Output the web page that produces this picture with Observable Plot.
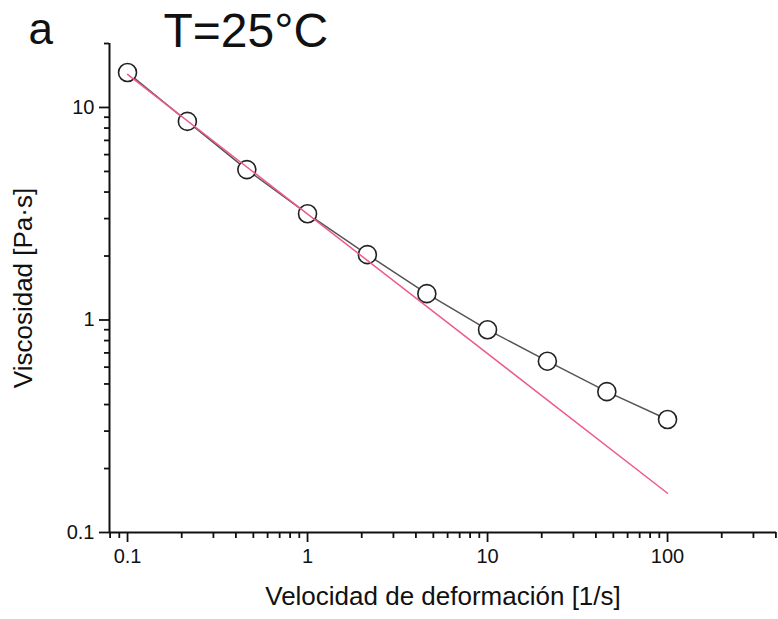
<!DOCTYPE html>
<html>
<head>
<meta charset="utf-8">
<script src="https://cdn.jsdelivr.net/npm/d3@7"></script>
<script src="https://cdn.jsdelivr.net/npm/@observablehq/plot@0.6"></script>
<style>
  html, body { margin: 0; padding: 0; background: #fff; }
  #chart svg { display: block; font-family: "Liberation Sans", Arial, sans-serif; }
</style>
</head>
<body>
<div id="chart"></div>
<script>
// Data
const shearRate = [0.1, 0.215, 0.46, 1.0, 2.15, 4.6, 10, 21.5, 46, 100];
const viscosity = [14.6, 8.6, 5.1, 3.16, 2.03, 1.33, 0.90, 0.64, 0.46, 0.34];

// Power-law fit line (endpoints)
const fitX = [0.1, 100];
const fitY = [14.3, 0.153];

// Axes
const xDomain = [0.0794, 403];
const yDomain = [0.1, 20];
const xMajor = [0.1, 1, 10, 100];
const xMinor = [0.08, 0.09, 0.2, 0.3, 0.4, 0.5, 0.6, 0.7, 0.8, 0.9,
                2, 3, 4, 5, 6, 7, 8, 9, 20, 30, 40, 50, 60, 70, 80, 90, 200, 300, 400];
const yMajor = [0.1, 1, 10];
const yMinor = [0.2, 0.3, 0.4, 0.5, 0.6, 0.7, 0.8, 0.9, 2, 3, 4, 5, 6, 7, 8, 9, 20];

const xLabel = "Velocidad de deformación [1/s]";
const yLabel = "Viscosidad [Pa·s]";
const panelLabel = "a";
const title = "T=25°C";

const points = shearRate.map((x, i) => ({x, y: viscosity[i]}));
const fit = fitX.map((x, i) => ({x, y: fitY[i]}));

const chart = Plot.plot({
  width: 778,
  height: 619,
  marginLeft: 109,
  marginRight: 2,
  marginTop: 43,
  marginBottom: 87,
  style: {fontFamily: "Liberation Sans, Arial, sans-serif", color: "#111", background: "#fff"},
  x: {type: "log", domain: xDomain},
  y: {type: "log", domain: yDomain},
  marks: [
    Plot.axisX({ticks: xMinor, tickSize: 6, tickFormat: () => "", label: null, strokeWidth: 1.8}),
    Plot.axisX({ticks: xMajor, tickSize: 10, tickPadding: 6, fontSize: 20, tickFormat: d => String(d), label: null, strokeWidth: 1.8}),
    Plot.axisY({ticks: yMinor, tickSize: 5, tickFormat: () => "", label: null, strokeWidth: 1.8}),
    Plot.axisY({ticks: yMajor, tickSize: 10, tickPadding: 5, fontSize: 20, tickFormat: d => String(d), label: null, strokeWidth: 1.8}),
    Plot.ruleX([xDomain[0]], {stroke: "#111", strokeWidth: 2}),
    Plot.ruleY([yDomain[0]], {stroke: "#111", strokeWidth: 2}),
    Plot.line(points, {x: "x", y: "y", stroke: "#555", strokeWidth: 1.5}),
    Plot.dot(points, {x: "x", y: "y", r: 9, fill: "white", stroke: "#222", strokeWidth: 1.6}),
    Plot.line(fit, {x: "x", y: "y", stroke: "#ee5a8c", strokeWidth: 1.5}),
    Plot.text([xLabel], {frameAnchor: "bottom", textAnchor: "middle", lineAnchor: "middle", dy: 64, fontSize: 26, fill: "#111"}),
    Plot.text([yLabel], {frameAnchor: "left", textAnchor: "middle", lineAnchor: "middle", rotate: -90, dx: -86, fontSize: 26, fill: "#111"}),
    Plot.text([panelLabel], {frameAnchor: "top-left", textAnchor: "start", lineAnchor: "middle", dx: -81, dy: -14, fontSize: 44, fill: "#111"}),
    Plot.text([title], {frameAnchor: "top-left", textAnchor: "start", lineAnchor: "middle", dx: 54, dy: -12, fontSize: 48, fill: "#111"})
  ]
});

document.getElementById("chart").appendChild(chart);
</script>
</body>
</html>
